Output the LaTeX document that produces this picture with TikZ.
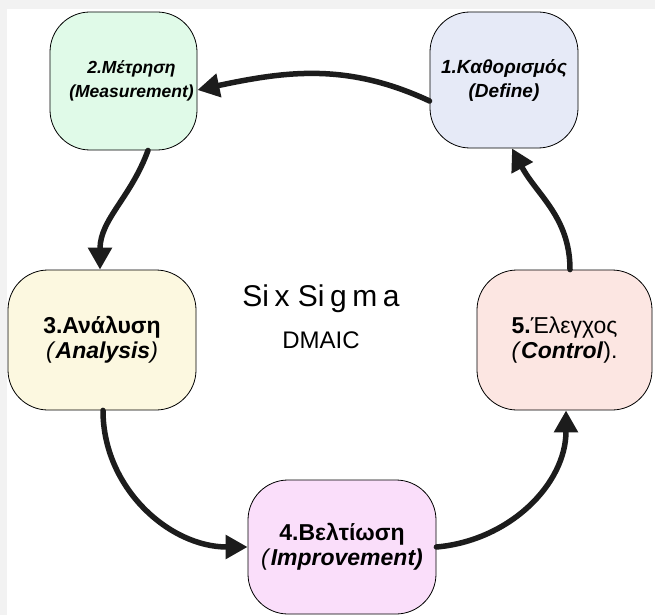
\documentclass[tikz,border=0pt]{standalone}
\usepackage{fontspec}
\setmainfont{Liberation Sans}
\usetikzlibrary{arrows.meta}

\definecolor{defineFill}{HTML}{E6EAF7}
\definecolor{measureFill}{HTML}{E0FAE8}
\definecolor{analyseFill}{HTML}{FCF8E0}
\definecolor{improveFill}{HTML}{FADEFA}
\definecolor{controlFill}{HTML}{FCE6E2}
\definecolor{arrowInk}{HTML}{1C1C1C}

\tikzset{
  phase/.style={draw=black, line width=0.8pt, rounded corners=40pt,
    align=center, inner sep=0pt},
  smallphase/.style={phase, font=\fontsize{19}{24}\selectfont},
  bigphase/.style={phase, font=\fontsize{23}{25}\selectfont},
  flow/.style={line width=5.5pt, draw=arrowInk, line cap=round,
    -{Triangle[length=22pt,width=23pt,fill=arrowInk]}},
}

\begin{document}
\begin{tikzpicture}[x=1pt,y=-1pt]
  % canvas and margins
  \useasboundingbox (0,0) rectangle (655,615);
  \fill[black!5] (0,0) rectangle (655,615);
  \fill[white] (7,9) rectangle (655,615);

  % the five DMAIC phases
  \node[smallphase, fill=defineFill, minimum width=148pt, minimum height=136pt]
    (define) at (504,80) {\textbf{\textit{1.Καθορισμός}}\\\textbf{\textit{(Define)}}};
  \node[smallphase, fill=measureFill, minimum width=147pt, minimum height=138pt,
    font=\fontsize{17.5}{24}\selectfont]
    (measure) at (123.5,81) {\hspace*{16pt}\textbf{\textit{2.Μέτρηση}}\\\hspace*{16pt}\textbf{\textit{(Measurement)}}};
  \node[bigphase, fill=analyseFill, minimum width=188pt, minimum height=140pt]
    (analyse) at (102,340) {\textbf{3.Ανάλυση}\\\textit{(}\textbf{\textit{Analysis}}\textit{)}};
  \node[bigphase, fill=improveFill, minimum width=188pt, minimum height=134pt]
    (improve) at (342,547) {\textbf{4.Βελτίωση}\\\textit{(}\textbf{\textit{Improvement)}}};
  \node[bigphase, fill=controlFill, minimum width=175pt, minimum height=140pt]
    (control) at (564.5,340) {\textbf{5.}Έλεγχος\\\textit{(}\textbf{\textit{Control}}).};

  % centre title
  \node (title) at (321,299) {\fontsize{30}{32}\selectfont Si\hspace{5.5pt}x Si\hspace{5.5pt}g\hspace{5.5pt}m\hspace{5.5pt}a};
  \node (sub) at (321,340) {\fontsize{24}{26}\selectfont DMAIC};

  % cycle connectors
  \draw[flow] (define.west |- 0,101) to[out=155,in=12] (measure.east |- 0,90);
  \draw[flow] (measure.south -| 148,0) to[out=-110,in=90] (analyse.north -| 100,0);
  \draw[flow] (analyse.south -| 103,0) to[out=-90,in=180] (improve.west);
  \draw[flow] (improve.east) to[out=5,in=-90] (control.south -| 566,0);
  \draw[flow] (control.north -| 570,0) to[out=90,in=-62] (define.south -| 512,0);
\end{tikzpicture}
\end{document}
